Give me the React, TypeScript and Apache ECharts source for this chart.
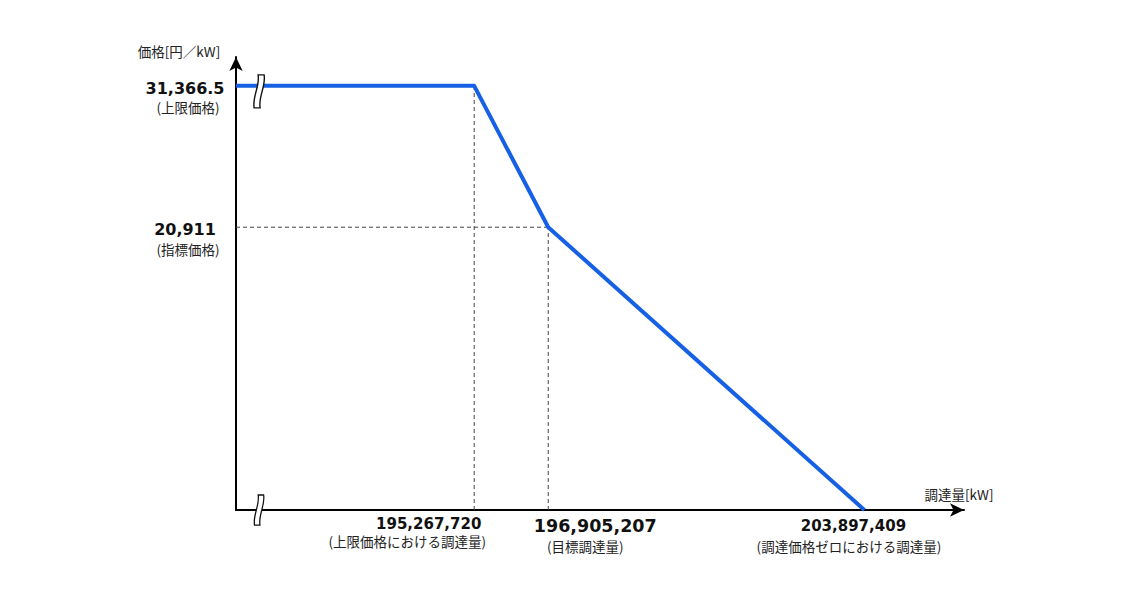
import { useEffect, useRef } from "react";
import * as echarts from "echarts";

// ---- data ----
const xMin = 190000000;
const xMax = 206100000;
const yMin = 0;
const yMax = 33500;

const priceCapQty = 195267720;
const targetQty = 196905207;
const zeroPriceQty = 203897409;
const capPrice = 31366.5;
const indexPrice = 20911;

const curveX = [xMin, priceCapQty, targetQty, zeroPriceQty];
const curveY = [capPrice, capPrice, indexPrice, 0];

const yTickValues = [capPrice, indexPrice];
const yTickLabels = ["31,366.5", "20,911"];
const yTickNotes = ["(上限価格)", "(指標価格)"];

const xTickValues = [priceCapQty, targetQty, zeroPriceQty];
const xTickLabels = ["195,267,720", "196,905,207", "203,897,409"];
const xTickNotes = ["(上限価格における調達量)", "(目標調達量)", "(調達価格ゼロにおける調達量)"];

const xAxisName = "調達量[kW]";
const yAxisName = "価格[円／kW]";
const breakX = 190500000;

echarts.graphic.registerShape(
  "axisBreak",
  echarts.graphic.extendPath(
    "M5,0 C7,11 -1,22 1,33 L7,33 C5,22 13,11 11,0 Z",
    {}
  )
);

const NUM_FONT = "'DejaVu Sans', 'Noto Sans', sans-serif";
const JP_FONT = "'Noto Sans CJK JP', 'Noto Sans', sans-serif";

export default function App() {
  const ref = useRef<HTMLDivElement>(null);

  useEffect(() => {
    const chart = echarts.init(ref.current!, null, { renderer: "svg" });
    const axisLine = {
      show: true,
      onZero: false,
      symbol: ["none", "arrow"],
      symbolSize: [10, 14],
      lineStyle: { color: "#000", width: 2 },
    };
    const dashStyle = { color: "#444", width: 1, type: [4, 3] };
    chart.setOption({
      animation: false,
      backgroundColor: "#ffffff",
      grid: { left: 236, top: 57, right: 170, bottom: 84 },
      xAxis: {
        type: "value",
        min: xMin,
        max: xMax,
        axisLine,
        axisTick: { show: false },
        axisLabel: { show: false },
        splitLine: { show: false },
      },
      yAxis: {
        type: "value",
        min: yMin,
        max: yMax,
        axisLine,
        axisTick: { show: false },
        axisLabel: { show: false },
        splitLine: { show: false },
      },
      series: [
        {
          type: "line",
          data: [
            [priceCapQty, yMin],
            [priceCapQty, capPrice],
          ],
          symbol: "none",
          lineStyle: dashStyle,
          z: 2,
        },
        {
          type: "line",
          data: [
            [targetQty, yMin],
            [targetQty, indexPrice],
          ],
          symbol: "none",
          lineStyle: dashStyle,
          z: 2,
        },
        {
          type: "line",
          data: [
            [xMin, indexPrice],
            [targetQty, indexPrice],
          ],
          symbol: "none",
          lineStyle: dashStyle,
          z: 2,
        },
        {
          type: "line",
          data: curveX.map((x, i) => [x, curveY[i]]),
          symbol: "none",
          lineStyle: { color: "#1660E6", width: 4, join: "round" },
          z: 5,
        },
      ],
    });

    const px = (x: number, y: number) =>
      chart.convertToPixel({ gridIndex: 0 }, [x, y]) as number[];

    const elements: any[] = [];
    const txt = (
      x: number,
      y: number,
      text: string,
      size: number,
      bold: boolean,
      family: string,
      fill: string
    ) => ({
      type: "text",
      x,
      y,
      z: 100,
      style: {
        text,
        font: `${bold ? "bold " : ""}${size}px ${family}`,
        lineHeight: size,
        fill,
        align: "center",
        verticalAlign: "middle",
        textAlign: "center",
        textVerticalAlign: "middle",
      },
    });

    // y tick labels
    yTickValues.forEach((v, i) => {
      const p = px(xMin, v);
      elements.push(txt(p[0] - 51, p[1] + 2.5, yTickLabels[i], 16, true, NUM_FONT, "#111"));
      elements.push(txt(p[0] - 48, p[1] + 21.5, yTickNotes[i], 13.5, false, JP_FONT, "#222"));
    });

    // x tick labels
    const numDx = [-45.5, 47, -11];
    const noteDx = [-67, 37, -15.5];
    const numDy = [13.5, 15.5, 15.5];
    const noteDy = [31, 36, 36];
    const numSize = [15, 17.5, 15];
    xTickValues.forEach((v, i) => {
      const p = px(v, yMin);
      elements.push(txt(p[0] + numDx[i], p[1] + numDy[i], xTickLabels[i], numSize[i], true, NUM_FONT, "#111"));
      elements.push(txt(p[0] + noteDx[i], p[1] + noteDy[i], xTickNotes[i], 13.5, false, JP_FONT, "#222"));
    });

    // axis names
    const xEnd = px(xMax, yMin);
    elements.push(txt(xEnd[0] - 5, xEnd[1] - 16, xAxisName, 13.5, false, JP_FONT, "#222"));
    const yEnd = px(xMin, yMax);
    elements.push(txt(yEnd[0] - 57, yEnd[1] - 6, yAxisName, 13.5, false, JP_FONT, "#222"));

    // break marks
    const b1 = px(breakX, capPrice);
    elements.push({
      type: "axisBreak",
      x: b1[0] - 5.5,
      y: b1[1] - 11,
      z: 110,
      style: { fill: "#fff", stroke: "#111", lineWidth: 1.4 },
    });
    const b2 = px(breakX, yMin);
    elements.push({
      type: "axisBreak",
      x: b2[0] - 5,
      y: b2[1] - 15,
      scaleX: 0.91,
      scaleY: 0.91,
      z: 110,
      style: { fill: "#fff", stroke: "#111", lineWidth: 1.4 },
    });

    chart.setOption({ graphic: { elements } });

    return () => chart.dispose();
  }, []);

  return (
    <div
      ref={ref}
      style={{ position: "fixed", left: 0, top: 0, width: 1134, height: 594, background: "#fff" }}
    />
  );
}
